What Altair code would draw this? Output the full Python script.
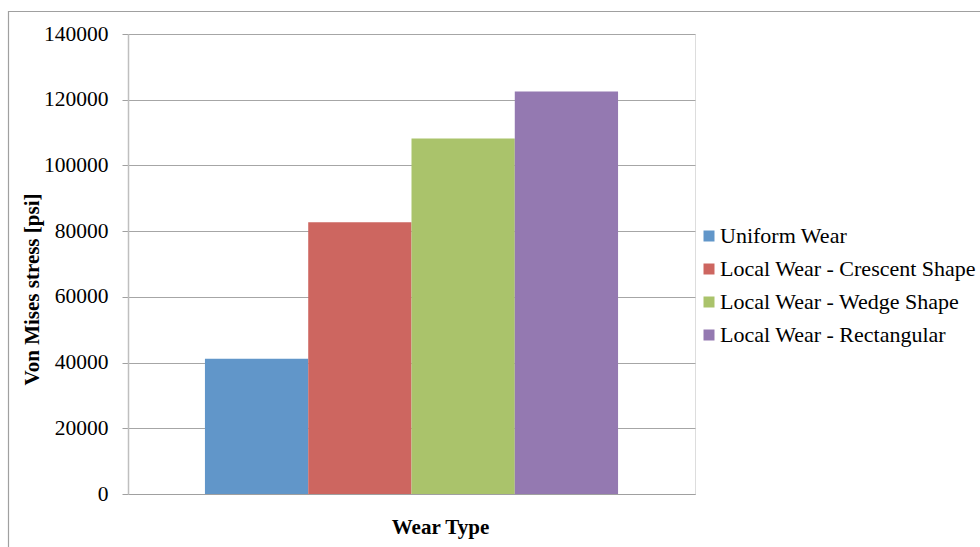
import altair as alt
import pandas as pd

# Peak von Mises stress for each wear pattern
wear_types = [
    "Uniform Wear",
    "Local Wear - Crescent Shape",
    "Local Wear - Wedge Shape",
    "Local Wear - Rectangular",
]
stress_psi = [41200, 82700, 108200, 122500]
bar_colors = ["#6196C9", "#CD6660", "#AAC36B", "#9479B1"]
y_ticks = [0, 20000, 40000, 60000, 80000, 100000, 120000, 140000]

df = pd.DataFrame({"wear": wear_types, "stress": stress_psi})

FONT = "Liberation Serif"
PLOT_W, PLOT_H = 567, 460
PAD_L, PAD_T = 128, 34

bars = alt.Chart(df).mark_bar().encode(
    x=alt.X(
        "wear:N",
        sort=wear_types,
        scale=alt.Scale(paddingInner=0, paddingOuter=0.745),
        axis=alt.Axis(
            title="Wear Type",
            labels=False,
            ticks=False,
            domainColor="#A0A0A0",
            titleFont=FONT,
            titleFontSize=21,
            titleFontWeight="bold",
            titleColor="#000000",
            titleX=312,
            titleY=39,
            titleBaseline="alphabetic",
            titleAnchor="start",
            titleAlign="center",
            grid=False,
        ),
    ),
    y=alt.Y(
        "stress:Q",
        scale=alt.Scale(domain=[0, 140000], nice=False),
        axis=alt.Axis(
            title="Von Mises stress [psi]",
            values=y_ticks,
            format="d",
            labelFont=FONT,
            labelFontSize=21.5,
            labelColor="#000000",
            labelPadding=14,
            tickSize=6,
            tickColor="#A0A0A0",
            domainColor="#BFBFBF",
            domainWidth=1.5,
            gridColor="#A6A6A6",
            titleFont=FONT,
            titleFontSize=21,
            titleFontWeight="bold",
            titleColor="#000000",
            titleAngle=270,
            titleBaseline="middle",
            titleAlign="center",
            titleX=-96,
            titleY=255,
        ),
    ),
    color=alt.Color(
        "wear:N",
        sort=wear_types,
        scale=alt.Scale(domain=wear_types, range=bar_colors),
        legend=alt.Legend(
            title=None,
            orient="none",
            legendX=570,
            legendY=191,
            padding=0,
            symbolType="square",
            symbolSize=121,
            symbolStrokeWidth=0,
            labelFont=FONT,
            labelFontSize=22,
            labelColor="#000000",
            labelOffset=0,
            labelLimit=0,
            rowPadding=11,
        ),
    ),
)

# Outer chart frame
frame = alt.Chart(pd.DataFrame({"f": [0]})).mark_rect(
    fill="transparent", stroke="#A0A0A0", strokeWidth=1.2
).encode(
    x=alt.value(8 - PAD_L + 0.5),
    x2=alt.value(1000),
    y=alt.value(11 - PAD_T + 0.5),
    y2=alt.value(700),
)

chart = alt.layer(frame, bars).properties(
    width=PLOT_W,
    height=PLOT_H,
    autosize=alt.AutoSizeParams(type="none"),
    padding={"left": PAD_L, "top": PAD_T, "right": 980 - PAD_L - PLOT_W, "bottom": 547 - PAD_T - PLOT_H},
).configure_view(stroke=None).configure(background="#FFFFFF")

chart.save("out.html", embed_options={"renderer": "svg", "actions": False})
